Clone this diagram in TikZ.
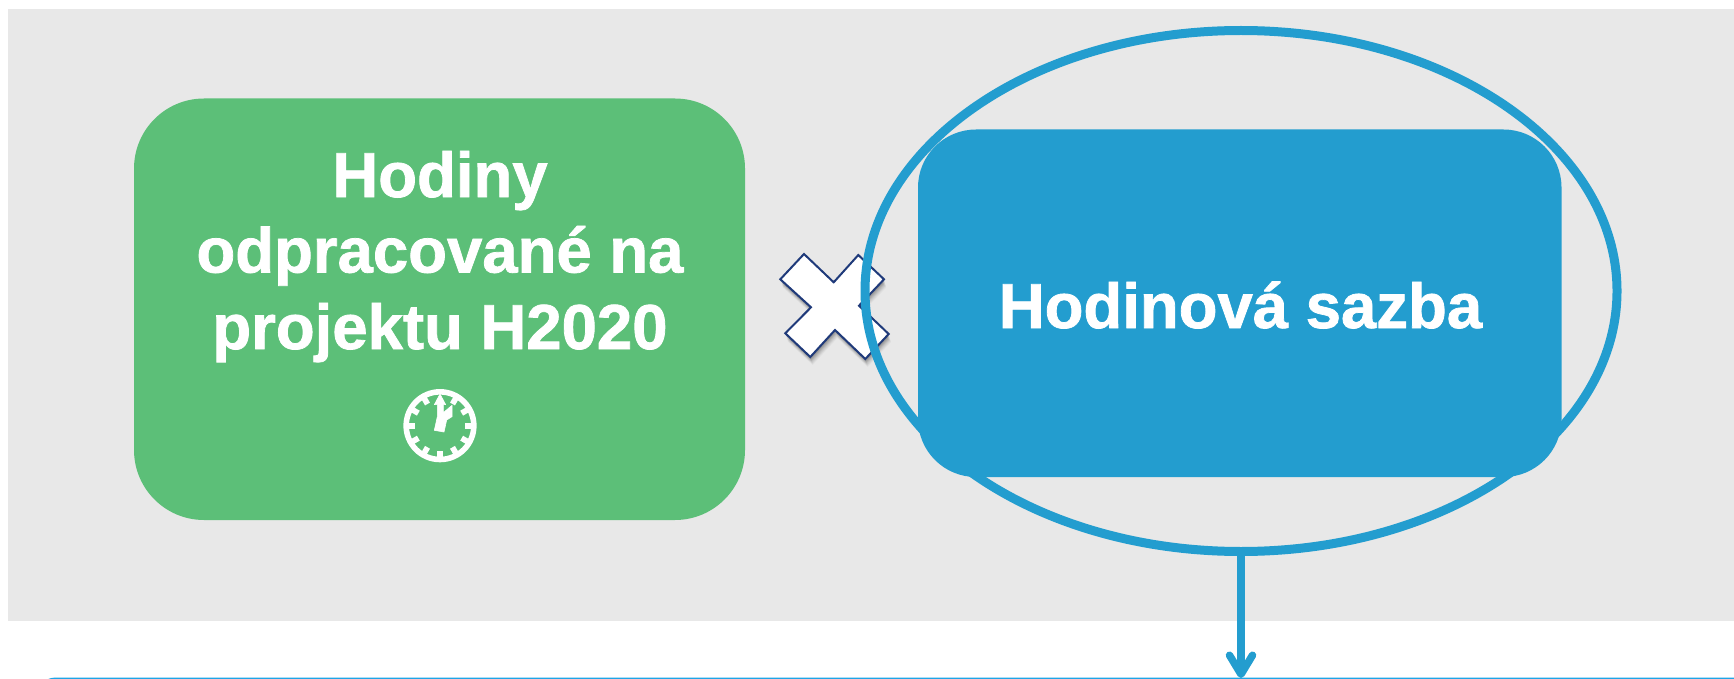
\documentclass[tikz,border=0pt]{standalone}
\usepackage{fontspec}
\setmainfont[BoldFeatures={FakeBold=1.2}]{Liberation Sans}
\usetikzlibrary{arrows.meta,shapes.geometric}
\definecolor{panelgray}{HTML}{E8E8E8}
\definecolor{boxgreen}{HTML}{5CBF78}
\definecolor{boxblue}{HTML}{239DCF}
\definecolor{edgeblue}{HTML}{1EA5E6}
\definecolor{crossnavy}{HTML}{1F3A7A}
\tikzset{
  x=1pt,y=-1pt,
  bigbox/.style={rectangle,inner sep=0pt,outer sep=0pt,text=white,align=center,
    font=\fontsize{63.5}{76}\selectfont\bfseries},
  crossshape/.style={fill=white,draw=crossnavy,line width=2pt,line join=miter},
  bluering/.style={ellipse,draw=boxblue,line width=9pt,inner sep=0pt,outer sep=0pt},
  flow/.style={draw=boxblue,line width=7.5pt,-{Straight Barb[round,length=19pt,width=23pt,line width=7.5pt]}},
}
\begin{document}
\begin{tikzpicture}
\useasboundingbox (0,0) rectangle (1734,679);
\clip (0,0) rectangle (1734,679);
\fill[white] (0,0) rectangle (1734,679);
\fill[panelgray] (8,9) rectangle (1734,621);
% bottom box edge
\draw[edgeblue,line width=2pt,rounded corners=20pt] (36,678.5) rectangle (1790,760);
% green box
\node[bigbox,fill=boxgreen,rounded corners=70pt,minimum width=611pt,minimum height=421.5pt] (hours) at (439.5,309.25) {};
\node[bigbox,anchor=base] (hourstext) at (440,197) {Hodiny};
\node[bigbox,anchor=base] (hourstext2) at (440,272.5) {odpracované na};
\node[bigbox,anchor=base] (hourstext3) at (440,349) {projektu H2020};
% clock
\begin{scope}[shift={(380,370)},scale=1/3]
  \draw[white,line width=5.6pt] (180,167) circle[radius=101.5];
  \foreach \a in {30,60,...,330}{
    \fill[white,rotate around={\a:(180,167)}] (171.5,72) rectangle (188.5,92);
  }
  \filldraw[white,line width=0.6pt,line join=round] (180,72) -- (197,104) -- (190,104) -- (190,128) -- (216,106) -- (216,140) -- (200,150) -- (192,186) -- (163,181) -- (172,140) -- (172,104) -- (163,104) -- cycle;
\end{scope}
% cross shadow
\foreach \o/\s in {8/0.03,7/0.04,6/0.05,5/0.06,4/0.07,3/0.08,2/0.09}{
  \fill[black,opacity=\s,shift={(\o*0.3,\o)}] (804,254) -- (833.7,282.3) -- (858.3,255) -- (884,279.3) -- (859,305.7) -- (888.7,334) -- (865.3,359) -- (835,330) -- (810.3,357) -- (785.3,333.3) -- (811,307.3) -- (780.3,279.3) -- cycle;
}
\draw[crossshape] (804,254) -- (833.7,282.3) -- (858.3,255) -- (884,279.3) -- (859,305.7) -- (888.7,334) -- (865.3,359) -- (835,330) -- (810.3,357) -- (785.3,333.3) -- (811,307.3) -- (780.3,279.3) -- cycle;
% ring
\node[bluering,minimum width=752pt,minimum height=521pt] (ring) at (1241,291) {};
% blue box
\node[bigbox,fill=boxblue,rounded corners=58pt,minimum width=643.5pt,minimum height=347.5pt] (rate) at (1239.75,303.25) {};
\node[bigbox,anchor=base] (ratetext) at (1240.5,328) {Hodinová sazba};
% arrow
\coordinate (target) at (1241,678);
\draw[flow] (ring.south) -- (target);
\end{tikzpicture}
\end{document}
